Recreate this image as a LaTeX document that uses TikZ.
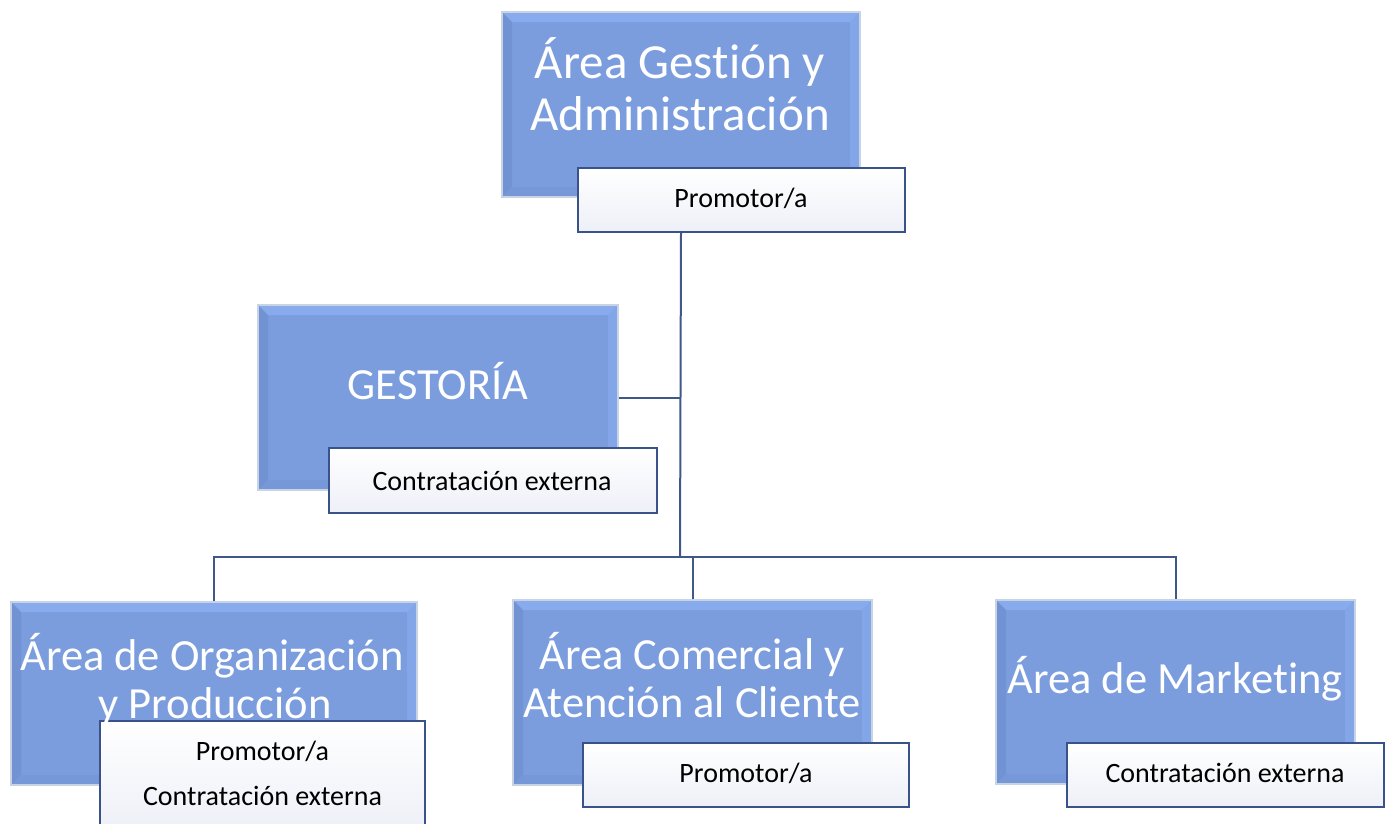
\documentclass[tikz,border=0pt]{standalone}
\usepackage{fontspec}
\setmainfont{Carlito}[Ligatures={NoCommon}]
\definecolor{bluefill}{RGB}{123,157,222}
\definecolor{bluetopc}{RGB}{136,171,238}
\definecolor{blueleft}{RGB}{113,146,211}
\definecolor{blueright}{RGB}{131,166,233}
\definecolor{bluebot}{RGB}{118,151,216}
\definecolor{blueedge}{RGB}{200,211,228}
\definecolor{linecol}{RGB}{63,88,136}
\definecolor{wbord}{RGB}{58,82,138}
\definecolor{wbottom}{RGB}{238,240,248}
\tikzset{
  bluebox/.style={rectangle, inner sep=0pt, fill=bluefill, draw=blueedge, line width=1.5pt,
    path picture={
      \fill[bluetopc] (path picture bounding box.north west) -- (path picture bounding box.north east)
        -- ([xshift=-10pt,yshift=-10pt]path picture bounding box.north east) -- ([xshift=10pt,yshift=-10pt]path picture bounding box.north west) -- cycle;
      \fill[blueleft] (path picture bounding box.north west) -- ([xshift=10pt,yshift=-10pt]path picture bounding box.north west)
        -- ([xshift=10pt,yshift=10pt]path picture bounding box.south west) -- (path picture bounding box.south west) -- cycle;
      \fill[blueright] (path picture bounding box.north east) -- ([xshift=-10pt,yshift=-10pt]path picture bounding box.north east)
        -- ([xshift=-10pt,yshift=10pt]path picture bounding box.south east) -- (path picture bounding box.south east) -- cycle;
      \fill[bluebot] (path picture bounding box.south west) -- ([xshift=10pt,yshift=10pt]path picture bounding box.south west)
        -- ([xshift=-10pt,yshift=10pt]path picture bounding box.south east) -- (path picture bounding box.south east) -- cycle;
    }},
  whitebox/.style={rectangle, inner sep=0pt, top color=white, bottom color=wbottom, draw=wbord, line width=1.5pt},
  bluetext/.style={text=white, font=\fontsize{44.5}{50}\selectfont, anchor=base, inner sep=0pt},
  bigtext/.style={bluetext, font=\fontsize{49}{54}\selectfont},
  wtext/.style={text=black, font=\fontsize{28}{32}\selectfont, anchor=base, inner sep=0pt},
  conn/.style={draw=linecol, line width=2pt}
}
\begin{document}
\begin{tikzpicture}[x=1pt,y=-1pt]
\useasboundingbox (0,0) rectangle (1385,823);
\clip (0,0) rectangle (1385,823);
% blue boxes
\node[bluebox, minimum width=358pt, minimum height=185pt] (topB) at (681,104.5) {};
\node[bluebox, minimum width=360pt, minimum height=185pt] (gesB) at (438,397.5) {};
\node[bluebox, minimum width=406pt, minimum height=183pt] (b1B) at (214,693.5) {};
\node[bluebox, minimum width=359pt, minimum height=185pt] (b2B) at (692.5,692.5) {};
\node[bluebox, minimum width=359pt, minimum height=184pt] (b3B) at (1175.5,692) {};
% white boxes
\node[whitebox, minimum width=327pt, minimum height=64pt] (topW) at (741.5,200) {};
\node[whitebox, minimum width=328pt, minimum height=65pt] (gesW) at (493,480.5) {};
\node[whitebox, minimum width=325pt, minimum height=110pt] (b1W) at (262.5,776) {};
\node[whitebox, minimum width=326pt, minimum height=64pt] (b2W) at (746,775) {};
\node[whitebox, minimum width=317pt, minimum height=64pt] (b3W) at (1225.5,775) {};
% connectors
\coordinate (bus) at (680,557);
\draw[conn] (topB |- topW.south) -- (bus);
\draw[conn] (gesB.east) -- (gesB.east -| bus);
\draw[conn] (b1B.north) |- (bus) -| (b3B.north);
\draw[conn] (b2B.north) -- (b2B.north |- bus);
% texts
\node[bigtext] (t1a) at (680,78) {Área Gestión y};
\node[bigtext] (t1b) at (680,130) {Administración};
\node[wtext] (w1) at (741,207) {Promotor/a};
\node[bluetext] (t2) at (438,399) {GESTORÍA};
\node[wtext] (w2) at (492,490) {Contratación externa};
\node[bluetext] (t3a) at (212,670) {Área de Organización};
\node[bluetext] (t3b) at (215,718) {y Producción};
\node[wtext] (w3a) at (262.5,760) {Promotor/a};
\node[wtext] (w3b) at (262.5,805) {Contratación externa};
\node[bluetext] (t4a) at (692,669) {Área Comercial y};
\node[bluetext] (t4b) at (692,717) {Atención al Cliente};
\node[wtext] (w4) at (746,782) {Promotor/a};
\node[bluetext] (t5) at (1175,693) {Área de Marketing};
\node[wtext] (w5) at (1225,782) {Contratación externa};
\end{tikzpicture}
\end{document}
